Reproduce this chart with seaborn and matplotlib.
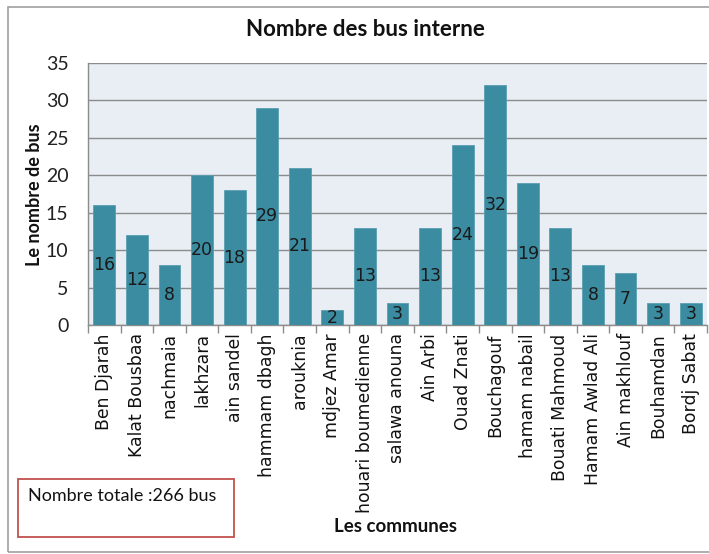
import matplotlib
matplotlib.use("Agg")
import matplotlib.pyplot as plt
from matplotlib.patches import Rectangle
import seaborn as sns
import pandas as pd
import numpy as np

communes = ["Ben Djarah", "Kalat Bousbaa", "nachmaia", "lakhzara", "ain sandel",
            "hammam dbagh", "arouknia", "mdjez Amar", "houari boumedienne",
            "salawa anouna", "Ain Arbi", "Ouad Znati", "Bouchagouf", "hamam nabail",
            "Bouati Mahmoud", "Hamam Awlad Ali", "Ain makhlouf", "Bouhamdan",
            "Bordj Sabat"]
nb_bus = [16, 12, 8, 20, 18, 29, 21, 2, 13, 3, 13, 24, 32, 19, 13, 8, 7, 3, 3]
y_ticks = [0, 5, 10, 15, 20, 25, 30, 35]
total_text = "Nombre totale :266 bus"

df = pd.DataFrame({"commune": communes, "bus": nb_bus})

sns.set_theme(style="white")
plt.rcParams["font.family"] = ["DejaVu Sans"]

fig = plt.figure(figsize=(7.09, 5.54), dpi=100)
ax = fig.add_axes([88 / 709, 1 - 325 / 554, (707 - 88) / 709, (325 - 63) / 554])

bar_color = "#3B8BA1"
sns.barplot(data=df, x="commune", y="bus", color=bar_color, saturation=1,
            width=0.67, edgecolor="#5A9FB3", linewidth=0.6, ax=ax, zorder=3)

ax.set_facecolor("#E8EEF3")
ax.set_ylim(0, 35)
ax.set_xlim(-0.5, len(communes) - 0.5)
ax.set_yticks(y_ticks)
ax.yaxis.grid(True, color="#8C8C8C", linewidth=1.0, zorder=0)
ax.set_axisbelow(True)

for s in ["top", "right"]:
    ax.spines[s].set_visible(False)
for s in ["left", "bottom"]:
    ax.spines[s].set_color("#8C8C8C")
    ax.spines[s].set_linewidth(1.0)

# value labels centred inside each bar
for i, v in enumerate(nb_bus):
    ax.text(i, v / 2, str(v), ha="center", va="center", fontsize=12.5,
            color="#1A1A1A", zorder=4)

# y tick labels
ax.tick_params(axis="y", length=0, pad=14, labelsize=14, labelcolor="#222222")
for lab in ax.get_yticklabels():
    lab.set_family("Lato")

# x tick labels rotated, tick marks between categories
ax.set_xticks(range(len(communes)))
ax.set_xticklabels(communes, rotation=90, fontsize=12.4, color="#111111")
ax.tick_params(axis="x", which="major", length=0, pad=6)
ax.set_xticks(np.arange(-0.5, len(communes), 1.0), minor=True)
ax.tick_params(axis="x", which="minor", length=6, width=1.0, color="#8C8C8C",
               direction="out", bottom=True)

ax.set_xlabel("")
ax.set_ylabel("")
fig.text(35 / 709, 1 - 195 / 554, "Le nombre de bus", ha="center", va="center",
         rotation=90, fontsize=13, fontweight="bold", family="Lato",
         color="#111111")

fig.text(365 / 709, 1 - 30 / 554, "Nombre des bus interne", ha="center",
         va="center", fontsize=16, fontweight="bold", family="Lato",
         color="#111111")
fig.text(396 / 709, 1 - 527 / 554, "Les communes", ha="center", va="center",
         fontsize=13.5, fontweight="bold", family="Lato", color="#111111")

# outer chart frame
fig.patches.append(Rectangle((8 / 709, 1 - 552 / 554), 710 / 709, 545 / 554,
                             transform=fig.transFigure, fill=False,
                             edgecolor="#A0A0A0", linewidth=1.2))

# total box
fig.patches.append(Rectangle((18 / 709, 1 - 537 / 554), 216 / 709, 58 / 554,
                             transform=fig.transFigure, fill=False,
                             edgecolor="#C0504D", linewidth=1.3))
fig.text(28 / 709, 1 - 496 / 554, total_text, ha="left", va="center",
         fontsize=13, family="Lato", color="#111111")

fig.savefig("out.png", dpi=100)
